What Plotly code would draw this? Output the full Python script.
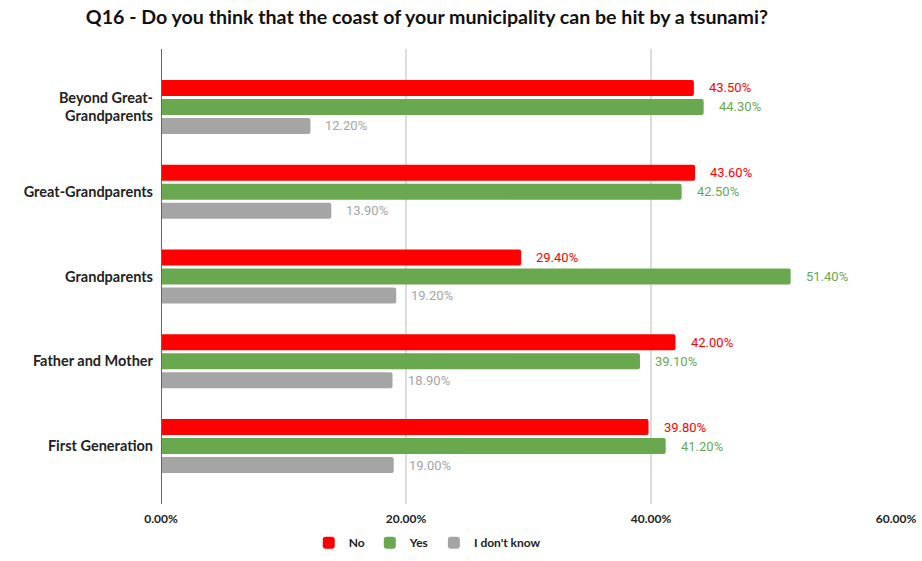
import plotly.graph_objects as go

# Survey answers by generation (percent of respondents)
categories = ["Beyond Great-<br>Grandparents", "Great-Grandparents", "Grandparents",
              "Father and Mother", "First Generation"]
no_values = [43.5, 43.6, 29.4, 42.0, 39.8]
yes_values = [44.3, 42.5, 51.4, 39.1, 41.2]
dont_know_values = [12.2, 13.9, 19.2, 18.9, 19.0]
x_ticks = [0, 20, 40, 60]
x_tick_labels = ["0.00%", "20.00%", "40.00%", "60.00%"]

series = [
    ("No", no_values, "#ff0000"),
    ("Yes", yes_values, "#6aa84f"),
    ("I don't know", dont_know_values, "#a5a5a5"),
]

fig = go.Figure()
for name, vals, color in series:
    fig.add_trace(go.Bar(
        name=name, y=categories, x=vals, orientation="h",
        marker=dict(color=color, line=dict(width=0), cornerradius=2),
        hoverinfo="x+y",
    ))

# Value labels to the right of each bar, coloured like the bar
slot_px = 19
for k, (name, vals, color) in enumerate(series):
    for cat, v in zip(categories, vals):
        fig.add_annotation(
            x=v, y=cat, text=f"{v:.2f}%", showarrow=False,
            xanchor="left", xshift=13, yshift=(1 - k) * slot_px,
            font=dict(family="Roboto", size=13, color=color),
        )

fig.update_layout(
    width=922, height=561,
    margin=dict(l=161, r=26, t=49, b=57, autoexpand=False),
    paper_bgcolor="white", plot_bgcolor="white",
    barmode="group", bargap=0.327, bargroupgap=0.16,
    title=dict(
        text="<b>Q16 - Do you think that the coast of your municipality can be hit by a tsunami?</b>",
        x=0.463, xanchor="center", y=0.97, yanchor="middle",
        font=dict(family="Lato", size=19.6, color="#111111"),
    ),
    xaxis=dict(
        range=[0, 60], tickvals=x_ticks, ticktext=x_tick_labels,
        showgrid=True, gridcolor="#dcdcdc", gridwidth=1.5,
        zeroline=False, showline=False, ticks="", ticklabelstandoff=6,
        tickfont=dict(family="Lato", size=12, color="#222222", weight="bold"),
        automargin=False, fixedrange=True,
    ),
    yaxis=dict(
        type="category", categoryorder="array", categoryarray=categories,
        range=[4.684, -0.684], showgrid=False, zeroline=False,
        showline=False, ticks="", ticklabelstandoff=7,
        tickfont=dict(family="Lato", size=14.5, color="#222222", weight="bold"),
        automargin=False, fixedrange=True,
    ),
    legend=dict(
        orientation="h", x=0.201, xanchor="left", y=-0.085, yanchor="middle",
        font=dict(family="Lato", size=12, color="#222222", weight="bold"),
        itemwidth=30, traceorder="normal",
    ),
    showlegend=True,
)

# Dark baseline at 0%
fig.add_shape(type="line", xref="x", yref="paper", x0=0, x1=0, y0=0, y1=1,
              line=dict(color="#666666", width=2))

fig.write_html("out.html")
